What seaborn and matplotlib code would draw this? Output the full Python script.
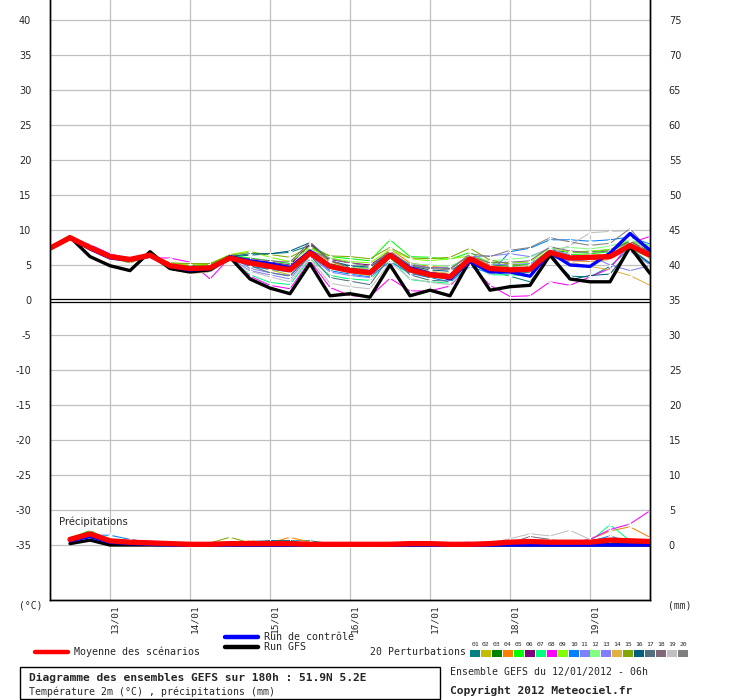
import matplotlib
matplotlib.use("Agg")
import matplotlib.pyplot as plt
from matplotlib.lines import Line2D
from matplotlib.patches import Rectangle
import seaborn as sns

# time axis (hours after 12/01/2012 06h)
hours = list(range(0, 181, 6))
rain_hours = list(range(6, 181, 6))
day_hours = [18, 42, 66, 90, 114, 138, 162]
day_labels = ["13/01", "14/01", "15/01", "16/01", "17/01", "18/01", "19/01"]

# 2m temperature (°C)
mean_temp = [7.4, 8.9, 7.5, 6.2, 5.8, 6.4, 4.9, 4.5, 4.6, 6.0, 5.3, 4.8, 4.3, 6.7, 4.8, 4.2,
             3.9, 6.4, 4.3, 3.6, 3.3, 5.9, 4.5, 4.3, 4.4, 6.8, 6.0, 6.1, 6.2, 7.8, 6.4]
ctrl_temp = [7.4, 8.9, 7.3, 6.0, 5.7, 6.3, 4.8, 4.3, 4.5, 6.2, 5.6, 5.2, 4.6, 7.0, 4.9, 4.3,
             4.0, 6.5, 4.6, 3.8, 3.0, 5.5, 4.0, 4.0, 3.4, 6.8, 5.0, 4.8, 6.7, 9.5, 7.1]
gfs_temp = [7.4, 9.0, 6.2, 4.9, 4.2, 6.9, 4.5, 4.0, 4.3, 6.1, 3.0, 1.7, 0.9, 5.2, 0.6, 0.9,
            0.4, 5.0, 0.6, 1.4, 0.6, 5.7, 1.4, 1.9, 2.1, 6.4, 3.0, 2.6, 2.6, 7.6, 3.8]

pert01 = [7.4, 8.9, 7.6, 6.3, 5.9, 6.2, 4.6, 4.2, 4.5, 6.2, 6.4, 6.6, 6.8, 7.8, 5.5, 4.8, 4.5, 6.8, 4.7, 3.6, 3.0, 5.6, 4.2, 3.4, 2.6, 6.3, 3.4, 3.3, 4.8, 7.4, 5.3]
pert02 = [7.5, 9.1, 7.3, 6.0, 5.6, 6.5, 5.2, 5.0, 5.1, 6.3, 5.0, 4.3, 3.6, 6.2, 4.5, 3.9, 3.5, 6.0, 3.9, 3.2, 3.1, 5.8, 4.8, 4.6, 4.7, 6.9, 6.2, 6.4, 6.5, 7.9, 6.6]
pert03 = [7.3, 8.8, 7.4, 6.1, 5.7, 6.3, 4.3, 4.0, 4.2, 5.7, 5.1, 4.9, 4.6, 6.9, 5.2, 4.5, 4.1, 6.6, 4.5, 3.9, 3.5, 6.2, 5.0, 4.8, 5.0, 7.2, 6.8, 6.9, 7.2, 8.4, 6.9]
pert04 = [7.4, 9.0, 7.6, 6.2, 6.0, 6.6, 5.3, 4.2, 4.4, 6.3, 5.8, 5.1, 4.4, 7.2, 5.5, 4.6, 4.4, 7.3, 5.3, 4.8, 4.6, 6.4, 4.9, 4.2, 4.0, 6.6, 5.6, 5.5, 5.8, 7.4, 6.0]
pert05 = [7.5, 9.3, 7.6, 6.4, 6.0, 6.5, 5.0, 4.9, 5.0, 6.4, 6.0, 5.6, 5.2, 7.8, 6.2, 5.9, 5.6, 8.6, 6.2, 6.1, 5.8, 6.8, 5.2, 5.0, 5.1, 7.0, 6.5, 6.6, 6.9, 8.3, 7.8]
pert06 = [7.4, 8.8, 7.8, 6.5, 6.0, 6.2, 5.0, 4.6, 4.6, 6.1, 5.6, 5.4, 5.0, 8.0, 5.8, 5.3, 5.0, 6.9, 4.8, 4.0, 3.7, 6.0, 4.7, 4.4, 4.2, 6.5, 5.6, 5.8, 6.0, 7.6, 6.6]
pert07 = [7.4, 9.0, 7.3, 6.0, 5.6, 6.4, 4.7, 4.4, 4.5, 6.0, 3.6, 2.5, 2.2, 5.9, 3.5, 3.0, 2.8, 6.1, 2.9, 2.6, 2.4, 5.5, 3.6, 3.6, 3.4, 6.6, 5.7, 5.9, 6.1, 7.3, 6.2]
pert08 = [7.4, 8.9, 7.9, 6.6, 5.9, 6.0, 6.0, 5.4, 3.0, 6.1, 3.4, 2.1, 1.6, 5.6, 1.8, 0.6, 0.5, 3.1, 1.3, 1.3, 2.0, 5.1, 2.1, 0.5, 0.6, 2.6, 2.1, 3.3, 4.5, 8.1, 9.1]
pert09 = [7.5, 9.2, 7.4, 6.1, 5.4, 6.6, 5.3, 5.1, 5.2, 6.5, 7.0, 6.1, 5.5, 7.4, 6.0, 5.5, 5.3, 7.2, 5.9, 5.6, 5.9, 6.3, 5.4, 5.3, 5.4, 7.5, 6.8, 7.0, 7.2, 8.6, 7.2]
pert10 = [7.3, 8.9, 7.5, 6.1, 5.8, 6.3, 4.6, 4.3, 4.4, 6.0, 4.8, 4.4, 4.0, 6.5, 4.2, 3.7, 3.3, 5.5, 3.8, 3.2, 2.6, 4.8, 3.8, 6.9, 7.4, 8.6, 8.6, 8.4, 8.6, 9.0, 8.0]
pert11 = [7.4, 8.9, 7.5, 6.3, 5.9, 6.4, 4.8, 4.4, 4.4, 6.4, 4.5, 3.9, 3.5, 6.6, 4.6, 4.5, 4.3, 6.3, 5.2, 4.6, 4.7, 6.2, 6.3, 6.6, 6.2, 7.4, 6.4, 6.3, 5.0, 4.2, 4.9]
pert12 = [7.4, 9.0, 7.4, 6.2, 5.8, 6.4, 5.0, 4.6, 4.7, 6.0, 5.4, 5.0, 4.5, 6.8, 5.0, 4.7, 4.5, 6.5, 5.2, 5.0, 4.8, 6.1, 5.6, 5.8, 6.1, 7.3, 7.5, 7.3, 7.7, 8.6, 7.5]
pert13 = [7.4, 8.8, 7.3, 6.1, 5.8, 6.5, 4.9, 4.5, 4.5, 6.0, 4.2, 3.6, 3.0, 6.3, 4.0, 3.5, 3.2, 6.4, 4.4, 3.8, 3.4, 6.0, 5.0, 5.1, 5.2, 6.8, 5.6, 5.8, 6.2, 7.0, 5.0]
pert14 = [7.4, 8.9, 7.6, 6.3, 5.6, 6.4, 4.4, 3.8, 4.0, 5.9, 5.2, 4.7, 4.1, 6.8, 4.7, 4.0, 3.7, 7.0, 4.8, 4.1, 3.8, 6.3, 4.9, 4.6, 4.5, 6.3, 5.4, 4.8, 4.3, 3.5, 2.1]
pert15 = [7.5, 9.1, 7.3, 6.0, 5.3, 6.3, 5.3, 5.2, 5.2, 6.4, 6.8, 6.5, 6.1, 7.6, 6.3, 6.2, 5.9, 7.5, 6.0, 5.9, 6.1, 7.4, 5.7, 5.1, 4.8, 6.8, 6.3, 6.1, 6.5, 7.9, 6.4]
pert16 = [7.4, 8.9, 7.5, 6.4, 5.9, 6.2, 4.8, 4.3, 4.5, 6.2, 6.6, 6.6, 7.0, 8.2, 5.6, 4.9, 4.7, 6.7, 4.9, 4.3, 4.1, 6.0, 4.6, 4.4, 4.3, 6.9, 2.9, 3.5, 3.7, 7.2, 5.2]
pert17 = [7.4, 9.0, 7.4, 6.2, 5.7, 6.3, 4.8, 4.4, 4.5, 6.1, 4.9, 3.9, 3.4, 6.4, 3.2, 2.7, 2.2, 6.2, 3.6, 2.8, 2.7, 5.8, 4.4, 4.0, 3.9, 6.5, 5.8, 5.9, 6.0, 7.6, 6.4]
pert18 = [7.4, 8.9, 7.5, 6.2, 5.8, 6.4, 5.0, 4.6, 4.6, 6.1, 5.9, 5.6, 5.4, 8.3, 5.7, 4.6, 4.2, 6.9, 5.0, 4.6, 4.5, 6.3, 5.3, 5.4, 5.6, 7.6, 7.0, 6.8, 7.0, 8.4, 6.8]
pert19 = [7.4, 8.9, 7.4, 6.1, 5.8, 6.3, 4.8, 3.9, 4.0, 5.8, 4.1, 3.3, 2.6, 6.0, 2.4, 1.9, 1.6, 5.4, 3.1, 2.5, 2.2, 4.9, 4.2, 4.6, 5.0, 6.6, 7.8, 9.6, 9.8, 9.9, 5.7]
pert20 = [7.4, 9.0, 7.6, 6.4, 5.9, 6.5, 5.0, 4.7, 4.8, 6.3, 5.7, 5.3, 4.9, 7.1, 5.9, 5.3, 4.8, 7.0, 4.9, 4.5, 4.3, 6.6, 6.2, 7.1, 7.5, 8.9, 8.3, 7.8, 8.1, 10.2, 6.9]

# 6h precipitation (mm)
mean_rain = [0.8, 1.6, 0.6, 0.4, 0.3, 0.2, 0.1, 0.1, 0.2, 0.2, 0.2, 0.2, 0.1, 0.1, 0.1,
             0.1, 0.1, 0.2, 0.2, 0.1, 0.1, 0.2, 0.4, 0.5, 0.4, 0.4, 0.4, 0.7, 0.6, 0.5]
ctrl_rain = [0.6, 1.2, 0.4, 0.2, 0.1, 0.0, 0.0, 0.0, 0.0, 0.0, 0.0, 0.0, 0.0, 0.0, 0.1,
             0.1, 0.0, 0.0, 0.0, 0.0, 0.0, 0.0, 0.0, 0.0, 0.0, 0.0, 0.0, 0.0, 0.0, 0.0]
gfs_rain = [0.2, 0.7, 0.0, 0.0, 0.0, 0.0, 0.0, 0.0, 0.0, 0.0, 0.0, 0.0, 0.0, 0.0, 0.0,
            0.0, 0.0, 0.0, 0.0, 0.0, 0.0, 0.0, 0.0, 0.0, 0.0, 0.0, 0.0, 0.0, 0.0, 0.0]

rain01 = [0.6, 1.3, 0.6, 0.3, 0.2, 0.1, 0.1, 0.0, 0.1, 0.2, 0.6, 0.6, 0.6, 0.2, 0.1, 0.0, 0.0, 0.0, 0.1, 0.1, 0.1, 0.2, 0.3, 0.4, 0.3, 0.2, 0.3, 0.4, 0.3, 0.1]
rain02 = [0.7, 1.6, 0.5, 0.3, 0.1, 0.0, 0.0, 0.0, 0.0, 0.1, 0.0, 0.0, 0.0, 0.0, 0.0, 0.0, 0.0, 0.3, 0.4, 0.1, 0.0, 0.1, 0.0, 0.0, 0.0, 0.1, 0.0, 0.0, 0.0, 0.0]
rain03 = [0.8, 1.8, 0.6, 0.4, 0.2, 0.1, 0.0, 0.0, 0.0, 0.0, 0.0, 0.1, 0.0, 0.0, 0.0, 0.0, 0.0, 0.0, 0.1, 0.0, 0.0, 0.0, 0.1, 0.2, 0.1, 0.0, 0.1, 0.0, 0.0, 0.0]
rain04 = [0.6, 1.4, 0.4, 0.2, 0.1, 0.1, 0.0, 0.0, 0.2, 0.6, 0.3, 1.1, 0.4, 0.1, 0.0, 0.0, 0.0, 0.0, 0.0, 0.0, 0.1, 0.1, 0.2, 0.3, 0.1, 0.3, 0.8, 2.0, 2.6, 1.1]
rain05 = [0.9, 2.1, 0.6, 0.4, 0.2, 0.0, 0.0, 0.0, 0.0, 0.0, 0.0, 0.0, 0.0, 0.0, 0.0, 0.0, 0.1, 0.2, 0.0, 0.0, 0.0, 0.1, 0.0, 0.0, 0.1, 0.0, 0.0, 0.2, 0.1, 0.0]
rain06 = [0.7, 1.5, 0.5, 0.5, 0.3, 0.2, 0.1, 0.0, 0.0, 0.1, 0.0, 0.0, 0.0, 0.0, 0.0, 0.0, 0.0, 0.0, 0.0, 0.0, 0.0, 0.0, 0.0, 0.1, 0.2, 0.1, 0.1, 0.3, 0.2, 0.1]
rain07 = [0.8, 1.7, 0.5, 0.3, 0.1, 0.1, 0.0, 0.0, 0.0, 0.0, 0.0, 0.0, 0.0, 0.0, 0.0, 0.0, 0.0, 0.0, 0.0, 0.0, 0.0, 0.0, 0.0, 0.0, 0.1, 0.2, 0.5, 2.9, 0.6, 0.4]
rain08 = [0.6, 1.4, 0.8, 0.4, 0.6, 0.2, 0.1, 0.0, 0.1, 0.1, 0.2, 0.1, 0.0, 0.0, 0.0, 0.0, 0.0, 0.0, 0.0, 0.3, 0.4, 0.1, 0.1, 0.1, 0.1, 0.3, 0.8, 2.2, 3.0, 4.9]
rain09 = [0.7, 1.6, 0.5, 0.3, 0.1, 0.0, 0.0, 0.0, 0.1, 0.0, 0.0, 0.0, 0.0, 0.0, 0.1, 0.0, 0.0, 0.4, 0.3, 0.0, 0.0, 0.0, 0.0, 0.0, 0.0, 0.1, 0.0, 0.0, 0.0, 0.0]
rain10 = [1.0, 1.4, 1.4, 0.8, 0.4, 0.2, 0.1, 0.0, 0.0, 0.1, 0.4, 0.2, 0.2, 0.1, 0.0, 0.0, 0.0, 0.0, 0.1, 0.1, 0.2, 0.4, 0.3, 0.4, 0.2, 0.2, 0.5, 1.3, 0.4, 0.2]
rain11 = [0.7, 1.5, 0.6, 0.4, 0.2, 0.0, 0.0, 0.1, 0.0, 0.0, 0.0, 0.0, 0.0, 0.0, 0.0, 0.0, 0.0, 0.0, 0.0, 0.0, 0.0, 0.0, 0.1, 0.1, 0.0, 0.0, 0.1, 0.0, 0.1, 0.2]
rain12 = [0.8, 1.6, 0.5, 0.3, 0.2, 0.1, 0.0, 0.0, 0.0, 0.0, 0.0, 0.0, 0.0, 0.0, 0.0, 0.0, 0.0, 0.2, 0.0, 0.0, 0.0, 0.0, 0.0, 0.0, 0.0, 0.2, 0.1, 0.5, 0.6, 0.3]
rain13 = [0.7, 1.4, 0.5, 0.3, 0.1, 0.0, 0.0, 0.0, 0.0, 0.0, 0.0, 0.0, 0.0, 0.0, 0.0, 0.0, 0.0, 0.0, 0.0, 0.0, 0.0, 0.0, 0.0, 0.0, 0.0, 0.0, 0.1, 0.3, 0.2, 0.1]
rain14 = [0.6, 1.3, 0.5, 0.2, 0.1, 0.0, 0.0, 0.0, 0.0, 0.0, 0.0, 0.0, 0.0, 0.0, 0.0, 0.0, 0.0, 0.0, 0.0, 0.0, 0.0, 0.1, 0.0, 0.0, 0.0, 0.0, 0.0, 0.0, 0.0, 0.0]
rain15 = [0.7, 1.5, 0.5, 0.3, 0.2, 0.1, 0.2, 0.3, 1.1, 0.3, 0.1, 0.0, 0.0, 0.0, 0.0, 0.0, 0.0, 0.0, 0.3, 0.2, 0.0, 0.0, 0.0, 0.0, 0.0, 0.0, 0.0, 0.0, 0.0, 0.0]
rain16 = [0.7, 1.5, 0.6, 0.3, 0.1, 0.1, 0.0, 0.1, 0.3, 0.5, 0.6, 0.6, 0.1, 0.0, 0.0, 0.0, 0.0, 0.0, 0.0, 0.0, 0.0, 0.0, 0.2, 0.1, 0.3, 0.2, 0.1, 0.3, 0.1, 0.0]
rain17 = [0.7, 1.6, 0.4, 0.2, 0.1, 0.0, 0.0, 0.0, 0.0, 0.0, 0.0, 0.0, 0.1, 0.1, 0.0, 0.0, 0.0, 0.0, 0.0, 0.0, 0.0, 0.1, 0.2, 0.3, 0.2, 0.1, 0.2, 0.3, 0.3, 0.2]
rain18 = [0.7, 1.5, 0.5, 0.3, 0.2, 0.1, 0.0, 0.0, 0.0, 0.0, 0.0, 0.0, 0.0, 0.0, 0.0, 0.0, 0.0, 0.0, 0.0, 0.0, 0.1, 0.1, 0.3, 1.2, 0.8, 0.3, 0.1, 0.1, 0.0, 0.0]
rain19 = [0.6, 1.3, 0.4, 0.2, 0.1, 0.0, 0.0, 0.0, 0.0, 0.0, 0.0, 0.0, 0.0, 0.0, 0.0, 0.0, 0.0, 0.0, 0.0, 0.0, 0.1, 0.3, 0.9, 1.6, 1.3, 2.1, 0.8, 0.3, 0.2, 0.1]
rain20 = [0.7, 1.6, 0.5, 0.3, 0.1, 0.0, 0.0, 0.0, 0.0, 0.0, 0.0, 0.0, 0.0, 0.0, 0.0, 0.0, 0.0, 0.0, 0.0, 0.0, 0.0, 0.1, 0.2, 0.6, 0.5, 0.2, 0.1, 0.2, 0.1, 0.0]

pert_colors = ["#008080", "#c0c000", "#008000", "#ff8000", "#00ff00", "#800080", "#00ff80",
               "#ff00ff", "#80ff00", "#0080ff", "#8080ff", "#80ff80", "#8080ff", "#e0b040",
               "#80a800", "#006080", "#507080", "#806878", "#c0c0c0", "#808080"]

perts_temp = [pert01, pert02, pert03, pert04, pert05, pert06, pert07, pert08, pert09, pert10,
              pert11, pert12, pert13, pert14, pert15, pert16, pert17, pert18, pert19, pert20]
perts_rain = [rain01, rain02, rain03, rain04, rain05, rain06, rain07, rain08, rain09, rain10,
              rain11, rain12, rain13, rain14, rain15, rain16, rain17, rain18, rain19, rain20]

W, H = 740, 700


def fx(px):
    return px / W


def fy(py):
    return 1 - py / H


sns.set_style("white")
plt.rcParams["font.family"] = ["DejaVu Sans"]
plt.rcParams["axes.unicode_minus"] = False

fig = plt.figure(figsize=(W / 100, H / 100), dpi=100)
ax = fig.add_axes([fx(50), fy(600), 600 / W, 600 / H])
ax.set_xlim(0, 180)
ax.set_ylim(-300 / 7, 300 / 7)
ax2 = ax.twinx()
ax2.set_ylim(-300 / 7 + 35, 300 / 7 + 35)

# grid
for h in day_hours:
    ax.axvline(h, color="#c0c0c0", lw=0.9, zorder=0)
for v in range(-35, 41, 5):
    if v != 0:
        ax.axhline(v, color="#c0c0c0", lw=0.9, zorder=0)
ax.axhline(0.2, color="black", lw=0.9, zorder=1)
ax.axhline(-0.22, color="black", lw=0.9, zorder=1)

thin = dict(lw=0.75, marker="+", markersize=3.5, markeredgewidth=0.7, legend=False)

# temperature
for vals, c in zip(perts_temp, pert_colors):
    sns.lineplot(x=hours, y=vals, ax=ax, color=c, zorder=2, **thin)
sns.lineplot(x=hours, y=gfs_temp, ax=ax, color="black", lw=2.4, legend=False, zorder=3)
sns.lineplot(x=hours, y=ctrl_temp, ax=ax, color="#0000ff", lw=2.4, legend=False, zorder=4)
sns.lineplot(x=hours, y=mean_temp, ax=ax, color="#ff0000", lw=3.8, legend=False, zorder=5)

# precipitation
for vals, c in zip(perts_rain, pert_colors):
    sns.lineplot(x=rain_hours, y=vals, ax=ax2, color=c, zorder=2, **thin)
sns.lineplot(x=rain_hours, y=gfs_rain, ax=ax2, color="black", lw=2.4, legend=False, zorder=3)
sns.lineplot(x=rain_hours, y=ctrl_rain, ax=ax2, color="#0000ff", lw=2.4, legend=False, zorder=4)
sns.lineplot(x=rain_hours, y=mean_rain, ax=ax2, color="#ff0000", lw=3.8, legend=False, zorder=5)

ax.set_yticks(list(range(-35, 41, 5)))
ax2.set_yticks(list(range(0, 76, 5)))
ax.set_xticks(day_hours)
ax.set_xticklabels(day_labels, rotation=90, family="DejaVu Sans Mono", fontsize=6.8,
                   ha="left")
ax.tick_params(axis="x", length=0, pad=3)
ax.tick_params(axis="y", length=0, pad=13.5, labelsize=7)
ax2.tick_params(axis="y", length=0, pad=13.5, labelsize=7)
ax2.set_xticks(day_hours)
ax.set_xlabel("")
ax.set_ylabel("")
ax2.set_ylabel("")
ax.grid(False)
ax2.grid(False)
for a in (ax, ax2):
    a.spines["top"].set_visible(False)
    for s in ("left", "right", "bottom"):
        a.spines[s].set_color("black")
        a.spines[s].set_linewidth(1.0)

ax.text(2.7, -31.7, "Précipitations", fontsize=7.3, va="center", ha="left")

mono = "DejaVu Sans Mono"
fig.text(fx(19), fy(606), "(°C)", family=mono, fontsize=7, va="center")
fig.text(fx(668), fy(606), "(mm)", family=mono, fontsize=7, va="center")

# legend
fig.add_artist(Line2D([fx(35), fx(68)], [fy(652), fy(652)], color="#ff0000", lw=3.2))
fig.text(fx(74), fy(652), "Moyenne des scénarios", family=mono, fontsize=7.2, va="center")
fig.add_artist(Line2D([fx(225), fx(258)], [fy(637), fy(637)], color="#0000ff", lw=3.2))
fig.text(fx(264), fy(637), "Run de contrôle", family=mono, fontsize=7.2, va="center")
fig.add_artist(Line2D([fx(225), fx(258)], [fy(646.5), fy(646.5)], color="black", lw=3.2))
fig.text(fx(264), fy(647), "Run GFS", family=mono, fontsize=7.2, va="center")
fig.text(fx(370), fy(652), "20 Perturbations", family=mono, fontsize=7.1, va="center")
for i, c in enumerate(pert_colors):
    x0 = 470 + i * 10.95
    fig.add_artist(Rectangle((fx(x0), fy(656.5)), 10 / W, 6.5 / H, transform=fig.transFigure,
                             facecolor=c, edgecolor="none"))
    fig.text(fx(x0 + 5), fy(644), "%02d" % (i + 1), family=mono, fontsize=4.6,
             ha="center", va="center")

fig.add_artist(Rectangle((fx(20), fy(698.5)), 420 / W, 32 / H, transform=fig.transFigure,
                         facecolor="none", edgecolor="black", lw=1.0))
fig.text(fx(29), fy(678), "Diagramme des ensembles GEFS sur 180h : 51.9N 5.2E",
         family=mono, fontsize=8.1, weight="bold", va="center")
fig.text(fx(29), fy(691.5), "Température 2m (°C) , précipitations (mm)",
         family=mono, fontsize=7.1, va="center")
fig.text(fx(450), fy(672), "Ensemble GEFS du 12/01/2012 - 06h", family=mono, fontsize=7.1,
         va="center")
fig.text(fx(450), fy(691), "Copyright 2012 Meteociel.fr", family=mono, fontsize=8.1,
         weight="bold", va="center")

fig.savefig("out.png", dpi=100)
